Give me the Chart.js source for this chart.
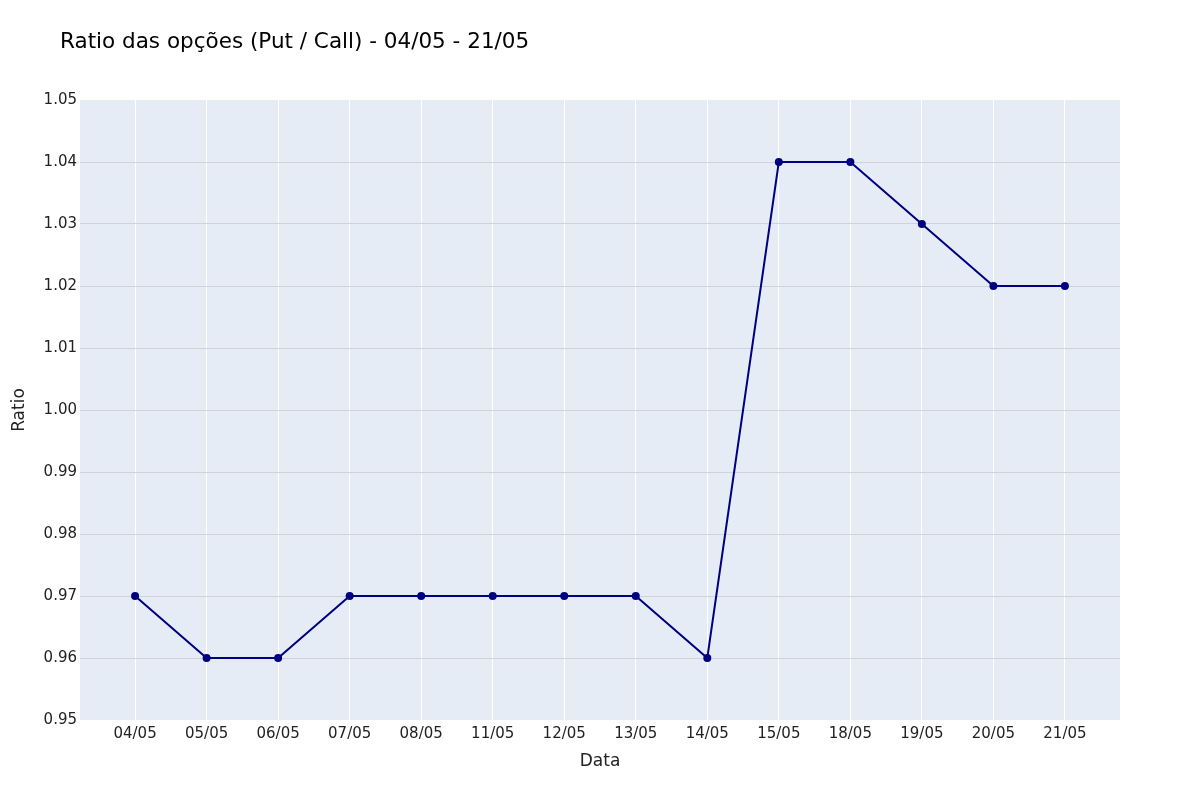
<!DOCTYPE html>
<html>
<head>
<meta charset="utf-8">
<script src="https://cdn.jsdelivr.net/npm/chart.js@4"></script>
<style>
  html, body { margin: 0; padding: 0; background: #fff; }
  #wrap { width: 1200px; height: 800px; }
</style>
</head>
<body>
<div id="wrap"><canvas id="ratioChart"></canvas></div>
<script>
const dates = ['04/05', '05/05', '06/05', '07/05', '08/05', '11/05', '12/05',
               '13/05', '14/05', '15/05', '18/05', '19/05', '20/05', '21/05'];
const ratios = [0.97, 0.96, 0.96, 0.97, 0.97, 0.97, 0.97,
                0.97, 0.96, 1.04, 1.04, 1.03, 1.02, 1.02];
const yTicks = [0.95, 0.96, 0.97, 0.98, 0.99, 1.00, 1.01, 1.02, 1.03, 1.04, 1.05];

const chartTitle = 'Ratio das opções (Put / Call) - 04/05 - 21/05';
const FONT = "'DejaVu Sans', Verdana, sans-serif";

// plot background + title drawn by hand (plotly-like)
const plotBg = {
    id: 'plotBg',
    beforeDraw(chart) {
        const { ctx, chartArea: a } = chart;
        ctx.save();
        ctx.fillStyle = '#E5ECF6';
        ctx.fillRect(a.left, a.top, a.right - a.left, a.bottom - a.top);
        ctx.restore();
    },
    afterDraw(chart) {
        const ctx = chart.ctx;
        ctx.save();
        ctx.fillStyle = '#000';
        ctx.font = '21.5px ' + FONT;
        ctx.textBaseline = 'middle';
        ctx.textAlign = 'left';
        ctx.fillText(chartTitle, 60, 42);
        ctx.restore();
    }
};

const ctx = document.getElementById('ratioChart').getContext('2d');
new Chart(ctx, {
    type: 'line',
    data: {
        datasets: [{
            data: ratios.map((v, i) => ({ x: i, y: v })),
            borderColor: '#000080',
            backgroundColor: '#000080',
            borderWidth: 2,
            pointRadius: 3,
            pointHoverRadius: 4,
            tension: 0
        }]
    },
    options: {
        responsive: true,
        maintainAspectRatio: false,
        animation: false,
        layout: { padding: { top: 100, right: 80, bottom: 0, left: 0 } },
        plugins: {
            legend: { display: false },
            tooltip: { enabled: false }
        },
        scales: {
            x: {
                type: 'linear',
                min: -0.77,
                max: dates.length - 1 + 0.77,
                afterBuildTicks: s => { s.ticks = dates.map((_, i) => ({ value: i })); },
                afterFit: s => { s.height = 80; },
                border: { display: false },
                grid: { color: '#ffffff', lineWidth: 1, drawTicks: false },
                ticks: {
                    padding: 5,
                    color: '#222',
                    font: { family: FONT, size: 15 },
                    maxRotation: 0,
                    autoSkip: false,
                    callback: v => dates[v]
                },
                title: {
                    display: true,
                    text: 'Data',
                    color: '#222',
                    font: { family: FONT, size: 17 },
                    padding: { bottom: 28 }
                }
            },
            y: {
                min: 0.95,
                max: 1.05,
                afterBuildTicks: s => { s.ticks = yTicks.map(v => ({ value: v })); },
                afterFit: s => { s.width = 80; },
                border: { display: false },
                grid: {
                    drawTicks: false,
                    lineWidth: 1,
                    color: c => (c.index === 0 || c.index === yTicks.length - 1) ? 'rgba(0,0,0,0)' : '#cfd3d9'
                },
                ticks: {
                    padding: 3,
                    color: '#222',
                    font: { family: FONT, size: 15 },
                    callback: v => v.toFixed(2)
                },
                title: {
                    display: true,
                    text: 'Ratio',
                    color: '#222',
                    font: { family: FONT, size: 17 },
                    padding: { top: 9 }
                }
            }
        }
    },
    plugins: [plotBg]
});
</script>
</body>
</html>
